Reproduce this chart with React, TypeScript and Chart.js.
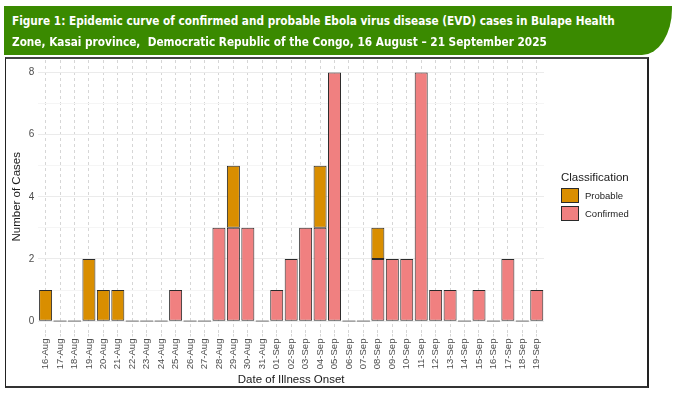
import React, { useEffect, useRef } from "react";
import { Chart, registerables } from "chart.js";

Chart.register(...registerables);

const categories = [
  "16-Aug", "17-Aug", "18-Aug", "19-Aug", "20-Aug", "21-Aug", "22-Aug", "23-Aug",
  "24-Aug", "25-Aug", "26-Aug", "27-Aug", "28-Aug", "29-Aug", "30-Aug", "31-Aug",
  "01-Sep", "02-Sep", "03-Sep", "04-Sep", "05-Sep", "06-Sep", "07-Sep", "08-Sep",
  "09-Sep", "10-Sep", "11-Sep", "12-Sep", "13-Sep", "14-Sep", "15-Sep", "16-Sep",
  "17-Sep", "18-Sep", "19-Sep",
];

const confirmed = [
  0, 0, 0, 0, 0, 0, 0, 0, 0, 1, 0, 0, 3, 3, 3, 0,
  1, 2, 3, 3, 8, 0, 0, 2, 2, 2, 8, 1, 1, 0, 1, 0, 2, 0, 1,
];

const probable = [
  1, 0, 0, 2, 1, 1, 0, 0, 0, 0, 0, 0, 0, 2, 0, 0,
  0, 0, 0, 2, 0, 0, 0, 1, 0, 0, 0, 0, 0, 0, 0, 0, 0, 0, 0,
];

const yTicks = [0, 2, 4, 6, 8];

const PROBABLE_COLOR = "#D98E00";
const CONFIRMED_COLOR = "#F08080";

const zeroBarPlugin = {
  id: "zeroBars",
  afterDatasetsDraw(chart: any) {
    const meta = chart.getDatasetMeta(0);
    const y = chart.scales.y.getPixelForValue(0);
    const ctx = chart.ctx;
    ctx.save();
    ctx.strokeStyle = "#9a9a9a";
    ctx.lineWidth = 1.5;
    categories.forEach((_, i) => {
      if (confirmed[i] + probable[i] !== 0) return;
      const el = meta.data[i];
      if (!el) return;
      ctx.beginPath();
      ctx.moveTo(el.x - el.width / 2, y);
      ctx.lineTo(el.x + el.width / 2, y);
      ctx.stroke();
    });
    ctx.restore();
  },
};

export default function App() {
  const ref = useRef<HTMLCanvasElement | null>(null);

  useEffect(() => {
    if (!ref.current) return;
    const chart = new Chart(ref.current, {
      type: "bar",
      data: {
        labels: categories,
        datasets: [
          {
            label: "Confirmed",
            data: confirmed,
            backgroundColor: CONFIRMED_COLOR,
            borderColor: "#2a2a2a",
            borderWidth: 1,
            borderSkipped: false,
            barPercentage: 0.9,
            categoryPercentage: 1,
          },
          {
            label: "Probable",
            data: probable,
            backgroundColor: PROBABLE_COLOR,
            borderColor: "#2a2a2a",
            borderWidth: 1,
            borderSkipped: false,
            barPercentage: 0.9,
            categoryPercentage: 1,
          },
        ],
      },
      options: {
        animation: false,
        responsive: false,
        maintainAspectRatio: false,
        layout: { padding: { top: 60, left: 10, right: 135, bottom: 6 } },
        plugins: {
          legend: { display: false },
          tooltip: { enabled: false },
        },
        scales: {
          x: {
            stacked: true,
            offset: true,
            grid: {
              offset: false,
              color: "#d6d6d6",
              lineWidth: 1,
              drawTicks: true,
              tickLength: 3,
            },
            border: { display: false, dash: [3, 3] },
            ticks: {
              autoSkip: false,
              minRotation: 90,
              maxRotation: 90,
              padding: 2,
              color: "#4d4d4d",
              font: { family: "'Liberation Sans', Arial, sans-serif", size: 9.5 },
            },
            title: {
              display: true,
              text: "Date of Illness Onset",
              color: "#1a1a1a",
              padding: { top: 2, bottom: 0 },
              font: { family: "'Liberation Sans', Arial, sans-serif", size: 11.5 },
            },
          },
          y: {
            stacked: true,
            min: -0.4,
            max: 8.4,
            grid: {
              color: (c: any) =>
                c.tick && c.tick.value % 2 === 0 ? "#ebebeb" : "#f5f5f5",
              lineWidth: 1,
              drawTicks: false,
            },
            border: { display: false },
            ticks: {
              stepSize: 1,
              includeBounds: false,
              padding: 4,
              color: "#4d4d4d",
              font: { family: "'Liberation Sans', Arial, sans-serif", size: 10 },
              callback: (v: any) => (yTicks.includes(Number(v)) ? String(v) : ""),
            },
            title: {
              display: true,
              text: "Number of Cases",
              color: "#1a1a1a",
              padding: { top: 0, bottom: 1 },
              font: { family: "'Liberation Sans', Arial, sans-serif", size: 11.5 },
            },
          },
        },
      },
      plugins: [zeroBarPlugin],
    });
    return () => chart.destroy();
  }, []);

  const legendItems = [
    { label: "Probable", color: PROBABLE_COLOR },
    { label: "Confirmed", color: CONFIRMED_COLOR },
  ];

  return (
    <div
      style={{
        position: "fixed",
        left: 0,
        top: 0,
        width: 679,
        height: 393,
        background: "#fff",
        overflow: "hidden",
        fontFamily: "'Liberation Sans', Arial, sans-serif",
      }}
    >
      <div
        style={{
          position: "absolute",
          left: 5,
          top: 57,
          width: 641,
          height: 327,
          borderTop: "2px solid #444",
          borderLeft: "1.5px solid #222",
          borderRight: "2px solid #222",
          borderBottom: "2px solid #333",
        }}
      />
      <canvas
        ref={ref}
        width={679}
        height={393}
        style={{ position: "absolute", left: 0, top: 0, width: 679, height: 393 }}
      />
      <div
        style={{
          position: "absolute",
          left: 4,
          top: 6,
          width: 668,
          height: 49,
          background: "#3a8a00",
          borderBottomRightRadius: "30px 46px",
          color: "#fff",
          fontFamily: "'DejaVu Sans Condensed', 'DejaVu Sans', sans-serif",
          fontWeight: 700,
          fontSize: 13,
          lineHeight: "20.5px",
          padding: "5px 0 0 8px",
          boxSizing: "border-box",
          whiteSpace: "nowrap",
        }}
      >
        <div style={{ transform: "scaleX(0.9)", transformOrigin: "left center" }}>
          Figure 1: Epidemic curve of confirmed and probable Ebola virus disease (EVD) cases in Bulape Health
        </div>
        <div style={{ transform: "scaleX(0.9)", transformOrigin: "left center" }}>
          Zone, Kasai province,&nbsp; Democratic Republic of the Congo, 16 August – 21 September 2025
        </div>
      </div>
      <div style={{ position: "absolute", left: 561, top: 171 }}>
        <div style={{ fontSize: 11.5, color: "#1a1a1a", marginBottom: 4 }}>Classification</div>
        {legendItems.map((it) => (
          <div
            key={it.label}
            style={{ display: "flex", alignItems: "center", height: 17, marginBottom: 1 }}
          >
            <div
              style={{
                width: 18,
                height: 15,
                background: it.color,
                border: "1px solid #2a2a2a",
                boxSizing: "border-box",
              }}
            />
            <span style={{ fontSize: 9.5, color: "#222", marginLeft: 6 }}>{it.label}</span>
          </div>
        ))}
      </div>
    </div>
  );
}
